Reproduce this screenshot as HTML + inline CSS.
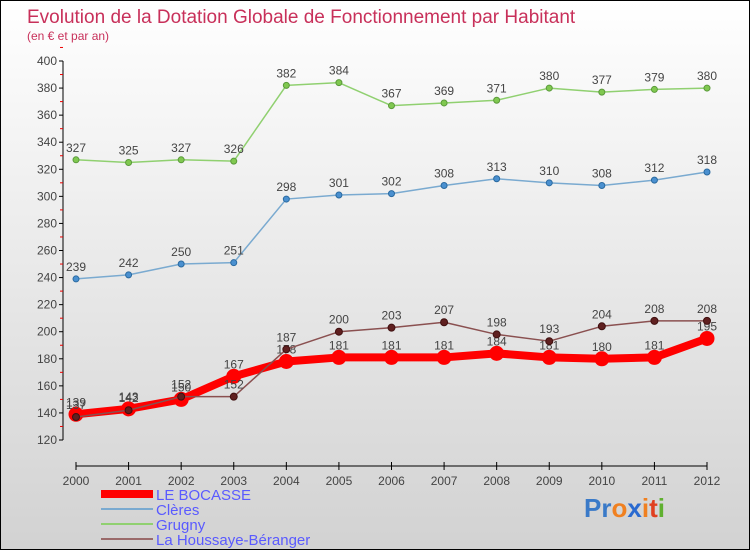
<!DOCTYPE html>
<html><head><meta charset="utf-8"><style>
body{margin:0}
#c{width:750px;height:550px;position:relative;box-sizing:border-box;border:1px solid #000;background:linear-gradient(#fff,#d2d2d2);font-family:"Liberation Sans",sans-serif;overflow:hidden}
</style></head><body>
<div id="c">
<svg id="s" width="750" height="550" style="position:absolute;left:0;top:0" font-family="Liberation Sans, sans-serif">
<text x="26" y="22" font-size="19" fill="#c8305a">Evolution de la Dotation Globale de Fonctionnement par Habitant</text>
<text x="26" y="39" font-size="12" fill="#c8305a">(en € et par an)</text>
<g id="axes"></g><g id="series"></g>
<g>
<rect x="100" y="489" width="52" height="8" fill="#f00"/>
<text x="155" y="499" font-size="15" fill="#5a5aff">LE BOCASSE</text>
<line x1="100" y1="508" x2="152" y2="508" stroke="#7aaad0" stroke-width="2"/>
<text x="155" y="514" font-size="15" fill="#5a5aff">Clères</text>
<line x1="100" y1="523" x2="152" y2="523" stroke="#90d070" stroke-width="2"/>
<text x="155" y="529" font-size="15" fill="#5a5aff">Grugny</text>
<line x1="100" y1="538" x2="152" y2="538" stroke="#9a6a6a" stroke-width="2"/>
<text x="155" y="544" font-size="15" fill="#5a5aff">La Houssaye-Béranger</text>
</g>
<text x="583" y="516" font-size="26" font-weight="bold"><tspan fill="#3a7ac8">Pr</tspan><tspan fill="#f08020">o</tspan><tspan fill="#2a6ad0">x</tspan><tspan fill="#f08020">i</tspan><tspan fill="#e04020">t</tspan><tspan fill="#60b030">i</tspan></text>
</svg>
</div>
<script>
const years=[2000,2001,2002,2003,2004,2005,2006,2007,2008,2009,2010,2011,2012];
const yTicks=[120,140,160,180,200,220,240,260,280,300,320,340,360,380,400];
const bocasse=[139,143,150,167,178,181,181,181,184,181,180,181,195];
const cleres=[239,242,250,251,298,301,302,308,313,310,308,312,318];
const grugny=[327,325,327,326,382,384,367,369,371,380,377,379,380];
const houssaye=[137,142,152,152,187,200,203,207,198,193,204,208,208];
const NS="http://www.w3.org/2000/svg";
function X(i){return 75+i*(706-75)/(years.length-1);}
function Y(v){return 439-(v-120)*(439-60)/280;}
function mk(tag,attrs,parent){const e=document.createElementNS(NS,tag);for(const k in attrs)e.setAttribute(k,attrs[k]);parent.appendChild(e);return e;}
const ax=document.getElementById('axes'),sg=document.getElementById('series');
let l=mk('line',{x1:62,y1:60,x2:62,y2:439,stroke:'#000'},ax);


l=mk('line',{x1:75,y1:465,x2:706,y2:465,stroke:'#000'},ax);


yTicks.forEach(v=>{mk('line',{x1:58,y1:Y(v),x2:62,y2:Y(v),stroke:'#000'},ax);
 mk('line',{x1:59,y1:Y(v+10),x2:62,y2:Y(v+10),stroke:'#e00'},ax);
 const t=mk('text',{x:56,y:Y(v)+4,'font-size':12,fill:'#444','text-anchor':'end'},ax);t.textContent=v;
 
 });
years.forEach((y,i)=>{mk('line',{x1:X(i),y1:461,x2:X(i),y2:469,stroke:'#000'},ax);
 const t=mk('text',{x:X(i),y:484,'font-size':12,fill:'#444','text-anchor':'middle'},ax);t.textContent=y;
 
 });
function series(data,name,color,w,r,dot,dstroke){
 const g=mk('g',{},sg);
 
 
 mk('polyline',{points:data.map((v,i)=>X(i)+','+Y(v)).join(' '),fill:'none',stroke:color,'stroke-width':w,'stroke-linejoin':'round'},g);
 data.forEach((v,i)=>{const c=mk('circle',{cx:X(i),cy:Y(v),r:r,fill:dot,stroke:dstroke,'stroke-width':1},g);
  
  
  const t=mk('text',{x:X(i),y:Y(v)-8,'font-size':12,fill:'#444','text-anchor':'middle'},g);t.textContent=v;});
}
series(grugny,'grugny','#90d070',1.5,3,'#80c850','#5a9a3a');
series(cleres,'cleres','#7aaad0',1.5,3,'#4a90d0','#2a6aa0');
series(bocasse,'le-bocasse','#f00',8,7,'#f00','#f00');
series(houssaye,'la-houssaye','#8a5050',1.5,3.5,'#602020','#401010');
</script>
</body></html>
